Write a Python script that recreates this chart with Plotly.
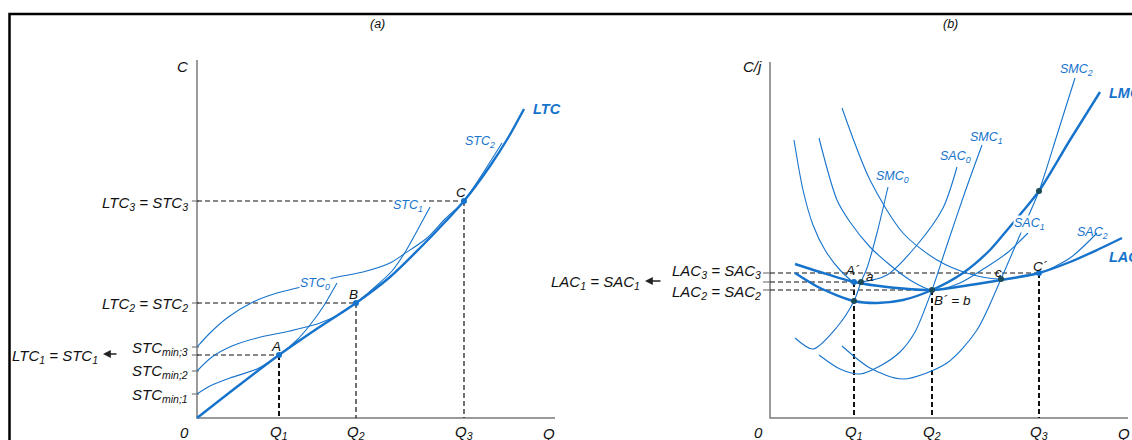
import plotly.graph_objects as go

# ---------------- DATA (panel a: total cost) ----------------
Q_a = {"Q1": 8.2, "Q2": 15.9, "Q3": 26.7}
C_levels_a = {"LTC3": 21.7, "LTC2": 11.5, "LTC1": 6.3, "min3": 7.1, "min2": 4.7, "min1": 2.4}

ltc_x = [0, 4.1, 8.2, 12.1, 15.9, 19.3, 22.3, 24.8, 26.7, 29.3, 31.1, 32.7]
ltc_y = [0, 3.2, 6.3, 9.0, 11.5, 14.1, 17.0, 19.6, 21.7, 25.2, 28.0, 30.9]

stc0_x = [0, 1.3, 3.3, 6.0, 8.2, 10.0, 11.3, 12.6, 13.6, 14.0]
stc0_y = [2.4, 3.2, 4.0, 4.9, 6.3, 7.8, 9.3, 11.1, 12.8, 13.5]

stc1_x = [0, 1.5, 3.5, 6.0, 9.3, 12.3, 14.3, 15.9, 17.8, 19.5, 20.7, 22.0, 23.3]
stc1_y = [4.7, 6.1, 7.2, 8.0, 8.7, 9.5, 10.4, 11.5, 13.1, 14.7, 16.4, 18.7, 21.1]

stc2_x = [0, 1.3, 3.0, 5.6, 8.0, 10.0, 13.6, 16.6, 19.3, 20.7, 23.0, 24.8, 26.7, 28.6, 30.5]
stc2_y = [7.1, 8.5, 10.0, 11.6, 12.5, 13.0, 14.0, 14.6, 15.5, 16.4, 18.0, 19.9, 21.7, 24.5, 27.5]

pts_a_x = [8.2, 15.9, 26.7]
pts_a_y = [6.3, 11.5, 21.7]
pts_a_lbl = ["A", "B", "C"]

# ---------------- DATA (panel b: average / marginal cost) ----------------
Q_b = {"Q1": 8.4, "Q2": 16.2, "Q3": 26.9}
C_levels_b = {"LAC3": 14.5, "LAC1": 13.6, "LAC2": 12.8}

lac_x = [2.5, 5.0, 8.4, 11.7, 16.2, 20.0, 23.1, 26.9, 30.0, 32.7, 35.2]
lac_y = [15.4, 14.6, 13.6, 13.1, 12.8, 13.3, 13.8, 14.5, 15.6, 16.8, 18.0]

lmc_x = [2.5, 5.0, 8.4, 10.7, 13.3, 16.2, 19.3, 22.0, 23.8, 25.3, 26.9, 30.0, 33.0]
lmc_y = [14.5, 13.0, 11.7, 11.5, 11.8, 12.8, 14.5, 16.8, 18.9, 20.7, 22.7, 27.8, 32.6]

sac0_x = [2.4, 3.3, 4.3, 5.5, 7.0, 8.4, 9.1, 11.7, 14.7, 17.3, 18.7]
sac0_y = [27.8, 22.8, 19.3, 16.8, 14.8, 13.6, 13.6, 14.3, 17.3, 21.0, 25.1]

sac1_x = [4.9, 6.7, 8.0, 10.0, 12.0, 14.0, 16.2, 19.0, 21.5, 23.7, 25.8]
sac1_y = [28.0, 21.8, 19.6, 17.1, 15.3, 13.8, 12.8, 13.5, 15.0, 16.5, 18.5]

sac2_x = [7.2, 10.0, 13.3, 16.7, 20.0, 23.1, 26.9, 30.0, 32.7]
sac2_y = [31.0, 23.8, 18.5, 15.8, 14.4, 13.9, 14.5, 16.0, 18.5]

smc0_x = [2.5, 4.3, 6.7, 8.4, 9.1, 9.7, 10.7, 11.8]
smc0_y = [8.0, 6.9, 9.1, 11.7, 13.6, 15.0, 18.5, 23.1]

smc1_x = [4.9, 7.0, 9.0, 11.0, 13.0, 14.5, 16.2, 17.7, 19.5, 21.2]
smc1_y = [6.3, 4.9, 4.4, 5.2, 6.6, 8.6, 12.8, 17.3, 22.6, 27.3]

smc2_x = [7.2, 10.0, 13.3, 17.7, 20.7, 23.1, 25.0, 26.9, 28.7, 30.5]
smc2_y = [7.2, 5.0, 3.9, 5.5, 8.8, 13.9, 18.3, 22.7, 28.3, 34.0]

blue_pts_b_x = [8.4, 26.9]
blue_pts_b_y = [13.6, 14.5]
dark_pts_b_x = [9.1, 8.4, 16.2, 23.1, 26.9]
dark_pts_b_y = [13.6, 11.7, 12.8, 13.9, 22.7]

# ---------------- STYLE ----------------
BLUE = "#1673cc"
DARK = "#1d4b5a"
GRAY = "#7a7a7a"
INK = "#111111"
FONT = "Liberation Sans, Arial, sans-serif"

fig = go.Figure()


def line(xs, ys, ax, color=BLUE, width=1.1, dash=None, shape="spline"):
    fig.add_trace(go.Scatter(
        x=xs, y=ys, mode="lines", xaxis=ax[0], yaxis=ax[1],
        line=dict(color=color, width=width, dash=dash, shape=shape, smoothing=0.8),
        hoverinfo="skip", showlegend=False))


def dots(xs, ys, ax, color):
    fig.add_trace(go.Scatter(
        x=xs, y=ys, mode="markers", xaxis=ax[0], yaxis=ax[1],
        marker=dict(color=color, size=6), hoverinfo="skip", showlegend=False))


A = ("x", "y")
B = ("x2", "y2")

# axes
line([0, 0, 35.8], [35.8, 0, 0], A, GRAY, 1.5, shape="linear")
line([0, 0, 35.8], [35.6, 0, 0], B, GRAY, 1.5, shape="linear")

# ticks
for v in C_levels_a.values():
    line([-0.5, 0.2], [v, v], A, GRAY, 1.2, shape="linear")
for v in C_levels_b.values():
    line([-0.7, 0], [v, v], B, GRAY, 1.2, shape="linear")

# panel a dashed guides
DASH = "5px,3px"
for i, (px, py) in enumerate(zip(pts_a_x, pts_a_y)):
    w = 2.0 if i == 0 else 1.2
    line([0, px], [py, py], A, INK, 1.2, DASH, "linear")
    line([px, px], [py, 0], A, INK, w, DASH, "linear")

# panel b dashed guides
line([0, Q_b["Q3"]], [C_levels_b["LAC3"]] * 2, B, INK, 1.2, DASH, "linear")
line([0, Q_b["Q1"]], [C_levels_b["LAC1"]] * 2, B, INK, 1.2, DASH, "linear")
line([0, Q_b["Q2"]], [C_levels_b["LAC2"]] * 2, B, INK, 1.2, DASH, "linear")
line([Q_b["Q1"]] * 2, [C_levels_b["LAC1"], 0], B, INK, 2.0, DASH, "linear")
line([Q_b["Q2"]] * 2, [C_levels_b["LAC2"], 0], B, INK, 2.0, DASH, "linear")
line([Q_b["Q3"]] * 2, [C_levels_b["LAC3"], 0], B, INK, 2.0, DASH, "linear")

# panel a curves
line(stc0_x, stc0_y, A)
line(stc1_x, stc1_y, A)
line(stc2_x, stc2_y, A)
line(ltc_x, ltc_y, A, BLUE, 2.4)
dots(pts_a_x, pts_a_y, A, BLUE)

# panel b curves
for xs, ys in [(sac0_x, sac0_y), (sac1_x, sac1_y), (sac2_x, sac2_y),
               (smc0_x, smc0_y), (smc1_x, smc1_y), (smc2_x, smc2_y)]:
    line(xs, ys, B)
line(lac_x, lac_y, B, BLUE, 2.4)
line(lmc_x, lmc_y, B, BLUE, 2.4)
dots(blue_pts_b_x, blue_pts_b_y, B, BLUE)
dots(dark_pts_b_x, dark_pts_b_y, B, DARK)

ann = []


def txt(x, y, s, ax, color=INK, size=15, xanchor="center", yanchor="middle", bg=None):
    d = dict(x=x, y=y, xref=ax[0], yref=ax[1], text=s, showarrow=False,
             font=dict(family=FONT, size=size, color=color),
             xanchor=xanchor, yanchor=yanchor)
    if bg:
        d["bgcolor"] = bg
        d["borderpad"] = 0
    ann.append(d)


def arrow(x_head, x_tail, y, ax):
    ann.append(dict(x=x_head, y=y, ax=x_tail, ay=y, xref=ax[0], yref=ax[1],
                    axref=ax[0], ayref=ax[1], text="", showarrow=True,
                    arrowhead=2, arrowsize=1.2, arrowwidth=1.3, arrowcolor="#222",
                    font=dict(size=12)))


def it(s):
    return "<i>" + s + "</i>"


# titles
txt(18.0, 39.4, it("(a)"), A, size=12.5)
txt(18.0, 39.4, it("(b)"), B, size=12.5)

# panel a axis labels
txt(-1.5, 35.2, it("C"), A)
txt(-1.3, -1.4, it("0"), A)
txt(35.2, -1.5, it("Q"), A)
for k, v in Q_a.items():
    txt(v, -1.4, it("Q<sub>" + k[1] + "</sub>"), A)

# panel a left labels
txt(-0.7, 21.5, it("LTC<sub>3</sub> = STC<sub>3</sub>"), A, xanchor="right")
txt(-0.7, 11.4, it("LTC<sub>2</sub> = STC<sub>2</sub>"), A, xanchor="right")
txt(-0.7, 7.0, it("STC<sub>min;3</sub>"), A, xanchor="right")
txt(-0.7, 4.7, it("STC<sub>min;2</sub>"), A, xanchor="right")
txt(-0.7, 2.3, it("STC<sub>min;1</sub>"), A, xanchor="right")
txt(-9.7, 6.2, it("LTC<sub>1</sub> = STC<sub>1</sub>"), A, xanchor="right")
arrow(-9.4, -7.9, 6.4, A)

# panel a curve / point labels
txt(33.4, 30.9, "<b><i>LTC</i></b>", A, BLUE, 14.5, xanchor="left")
txt(28.3, 27.6, it("STC<sub>2</sub>"), A, BLUE, 12.5)
txt(21.1, 21.2, it("STC<sub>1</sub>"), A, BLUE, 12.5, bg="white")
txt(11.8, 13.4, it("STC<sub>0</sub>"), A, BLUE, 12.5, bg="white")
for px, py, s in zip(pts_a_x, pts_a_y, pts_a_lbl):
    txt(px - 0.3, py + 0.9, it(s), A, INK, 13.5)

# panel b axis labels
txt(-1.8, 35.2, it("C/j"), B)
txt(-1.2, -1.4, it("0"), B)
txt(35.4, -1.5, it("Q"), B)
for k, v in Q_b.items():
    txt(v, -1.4, it("Q<sub>" + k[1] + "</sub>"), B)

# panel b left labels
txt(-0.7, 14.7, it("LAC<sub>3</sub> = SAC<sub>3</sub>"), B, xanchor="right")
txt(-0.7, 12.6, it("LAC<sub>2</sub> = SAC<sub>2</sub>"), B, xanchor="right")
txt(-12.8, 13.6, it("LAC<sub>1</sub> = SAC<sub>1</sub>"), B, xanchor="right")
arrow(-12.5, -10.8, 13.7, B)

# panel b curve labels
txt(30.6, 34.8, it("SMC<sub>2</sub>"), B, BLUE, 12.5)
txt(33.7, 32.5, "<b><i>LMC</i></b>", B, BLUE, 14.5, xanchor="left")
txt(21.6, 28.0, it("SMC<sub>1</sub>"), B, BLUE, 12.5)
txt(18.5, 26.1, it("SAC<sub>0</sub>"), B, BLUE, 12.5)
txt(12.2, 24.1, it("SMC<sub>0</sub>"), B, BLUE, 12.5)
txt(25.9, 19.4, it("SAC<sub>1</sub>"), B, BLUE, 12.5, bg="white")
txt(32.2, 18.5, it("SAC<sub>2</sub>"), B, BLUE, 12.5)
txt(33.7, 16.1, "<b><i>LAC</i></b>", B, BLUE, 14.5, xanchor="left")

# panel b point labels
txt(8.2, 14.8, it("A´"), B, INK, 13.5)
txt(10.0, 14.2, it("a"), B, INK, 13.5)
txt(18.2, 11.8, it("B´ = b"), B, INK, 13.5)
txt(22.8, 14.6, it("c"), B, INK, 13.5)
txt(27.0, 15.2, it("C´"), B, INK, 13.5)

fig.update_layout(
    width=1132, height=440,
    margin=dict(l=0, r=0, t=0, b=0),
    paper_bgcolor="white", plot_bgcolor="white",
    xaxis=dict(domain=[0, 0.5], range=[-19.7, 36.9], visible=False),
    yaxis=dict(domain=[0, 1], range=[-2.2, 41.8], visible=False),
    xaxis2=dict(domain=[0.5, 1], range=[-20.4, 36.2], visible=False, anchor="y2"),
    yaxis2=dict(domain=[0, 1], range=[-2.2, 41.8], visible=False, anchor="x2"),
    annotations=ann,
    shapes=[dict(type="rect", xref="paper", yref="paper",
                 x0=9.5 / 1132, x1=1.05, y0=-0.05, y1=1 - 14 / 440,
                 line=dict(color="black", width=2.5))],
)

fig.write_html("out.html")
